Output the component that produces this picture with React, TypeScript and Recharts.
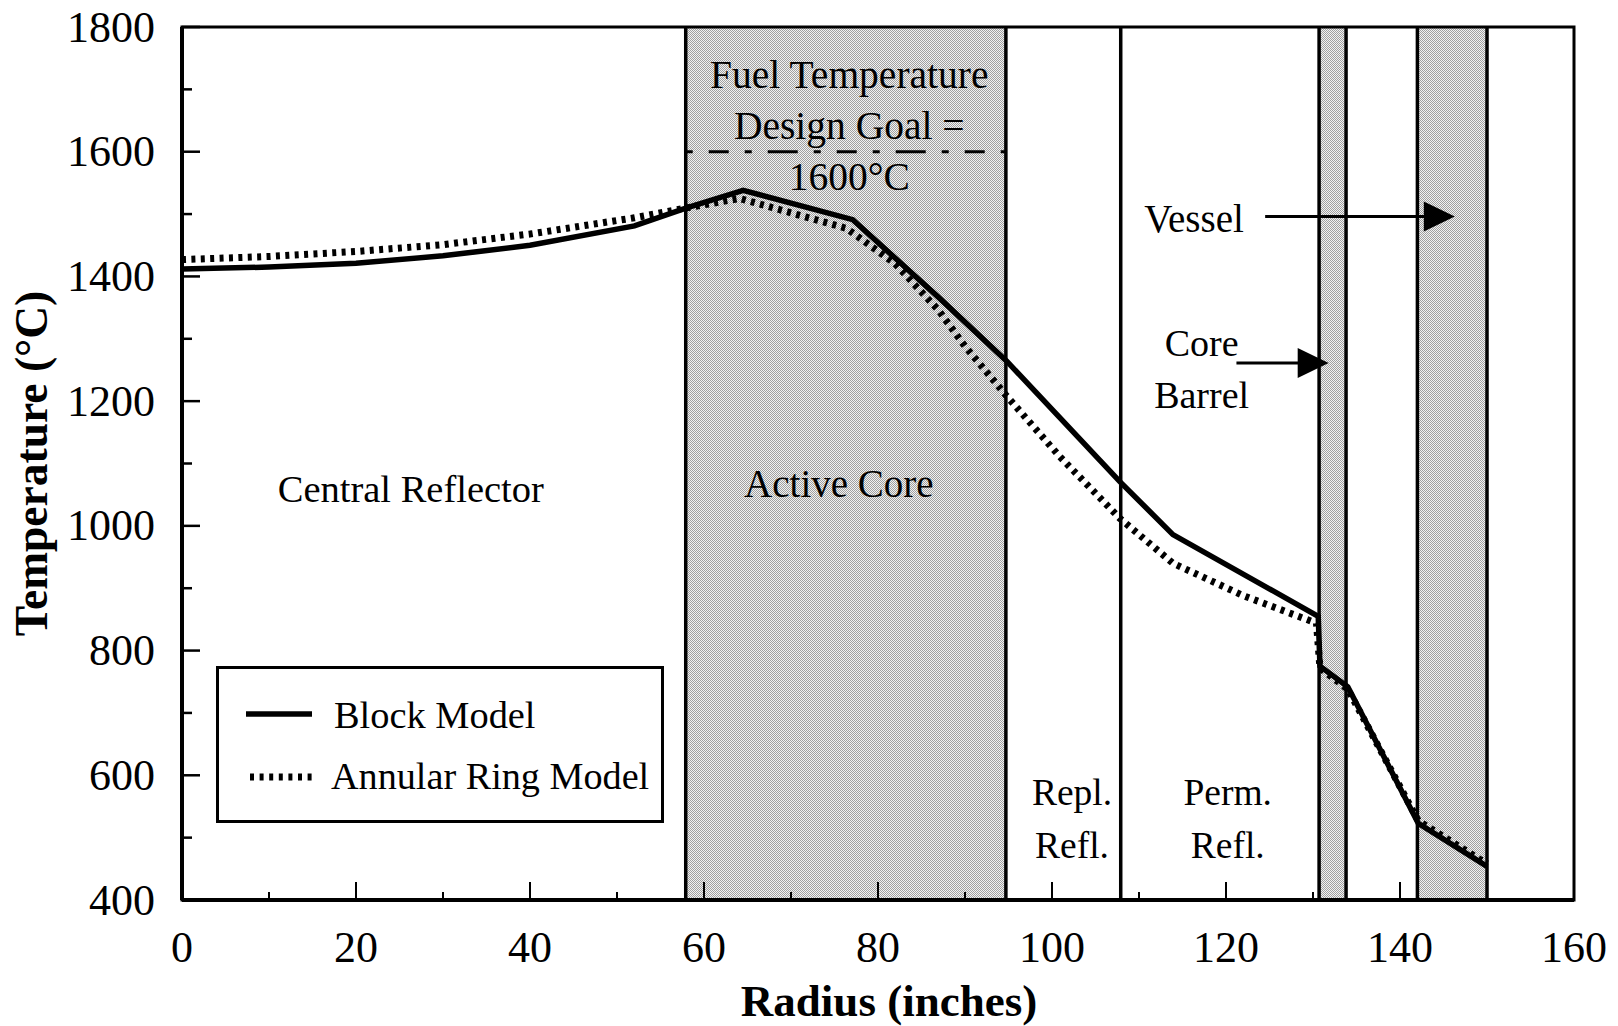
import React from 'react';
import {
  ComposedChart,
  Line,
  XAxis,
  YAxis,
  ReferenceArea,
  ReferenceLine,
  ReferenceDot,
  Legend,
} from 'recharts';

// ---------- data ----------
const blockRadius = [0, 10, 20, 30, 40, 52, 58, 64.5, 77.1, 87, 94.8, 107.8, 113.9, 130.6, 130.8, 134.0, 142.1, 150];
const blockTemp = [1412, 1415, 1421, 1433, 1450, 1481, 1510, 1538, 1491, 1366, 1264, 1071, 986, 855, 775, 742, 523, 454];

const annularRadius = [0, 10, 20, 30, 40, 52, 58, 64.1, 76.4, 82, 87, 90, 94.8, 100.9, 107.8, 113.9, 122, 130.4, 130.8, 134.0, 142.1, 150];
const annularTemp = [1427, 1432, 1440, 1451, 1468, 1494, 1510, 1525, 1477, 1420, 1345, 1288, 1208, 1111, 1012, 940, 888, 844, 772, 738, 527, 458];

const seriesNames = ['Block Model', 'Annular Ring Model'];

const xTicks = [0, 10, 20, 30, 40, 50, 60, 70, 80, 90, 100, 110, 120, 130, 140, 150, 160];
const yTicks = [400, 500, 600, 700, 800, 900, 1000, 1100, 1200, 1300, 1400, 1500, 1600, 1700, 1800];

const shadedZones = [
  [57.9, 94.7],
  [130.7, 133.8],
  [142.0, 150.0],
];
const zoneBoundaries = [57.9, 94.7, 107.9, 130.7, 133.8, 142.0, 150.0];
const designGoal = 1600;

const blockData = blockRadius.map((r, i) => ({ r, t: blockTemp[i] }));
const annularData = annularRadius.map((r, i) => ({ r, t: annularTemp[i] }));

// ---------- styling ----------
const SERIF = "'Liberation Serif', 'Times New Roman', Times, serif";

const XTick = (props: any) => {
  const { x, y, payload } = props;
  const v = payload.value;
  const major = v % 20 === 0;
  return (
    <g>
      <line x1={x} x2={x} y1={y} y2={y - (major ? 18 : 8)} stroke="#000" strokeWidth={2} />
      {major && (
        <text x={x} y={y + 47} textAnchor="middle" dominantBaseline="central" fontFamily={SERIF} fontSize={44} fill="#000">
          {v}
        </text>
      )}
    </g>
  );
};

const YTick = (props: any) => {
  const { x, y, payload } = props;
  const v = payload.value;
  const major = v % 200 === 0;
  return (
    <g>
      <line x1={x} x2={x + (major ? 18 : 10)} y1={y} y2={y} stroke="#000" strokeWidth={2.5} />
      {major && (
        <text x={x - 27} y={y} textAnchor="end" dominantBaseline="central" fontFamily={SERIF} fontSize={44} fill="#000">
          {v}
        </text>
      )}
    </g>
  );
};

const XTitle = (props: any) => {
  const vb = props.viewBox;
  return (
    <text x={vb.x + vb.width / 2 + 11} y={vb.y + 116} textAnchor="middle" fontFamily={SERIF} fontWeight="bold" fontSize={45} fill="#000">
      Radius (inches)
    </text>
  );
};

const YTitle = (props: any) => {
  const vb = props.viewBox;
  const cx = 31;
  const cy = vb.y + vb.height / 2;
  return (
    <text
      x={cx}
      y={cy}
      transform={`rotate(-90 ${cx} ${cy})`}
      textAnchor="middle"
      dominantBaseline="central"
      fontFamily={SERIF}
      fontWeight="bold"
      fontSize={45.5}
      fill="#000"
    >
      Temperature (°C)
    </text>
  );
};

const Note = (props: any) => {
  const { viewBox, lines, anchor = 'middle', size = 38, gap = 51, dy0 = 0 } = props;
  if (!viewBox) return null;
  return (
    <g>
      {lines.map((s: string, i: number) => (
        <text
          key={i}
          x={viewBox.x}
          y={viewBox.y + dy0 + i * gap}
          textAnchor={anchor}
          fontFamily={SERIF}
          fontSize={size}
          fill="#000"
        >
          {s}
        </text>
      ))}
    </g>
  );
};

const Arrow = (props: any) => {
  const { x1, y1, x2, y2 } = props;
  const head = 31;
  const half = 15;
  return (
    <g>
      <line x1={x1} y1={y1} x2={x2 - head + 2} y2={y2} stroke="#000" strokeWidth={3} />
      <polygon points={`${x2},${y2} ${x2 - head},${y2 - half} ${x2 - head},${y2 + half}`} fill="#000" />
    </g>
  );
};

const LegendBox = () => (
  <svg width={448} height={157} style={{ display: 'block', background: '#fff' }}>
    <rect x={1.5} y={1.5} width={445} height={154} fill="#fff" stroke="#000" strokeWidth={3} />
    <line x1={30} x2={96} y1={48} y2={48} stroke="#000" strokeWidth={5.5} />
    <text x={118} y={61.5} fontFamily={SERIF} fontSize={38.4} fill="#000">
      {seriesNames[0]}
    </text>
    <line x1={34} x2={96} y1={111} y2={111} stroke="#000" strokeWidth={7} strokeDasharray="4 5.6" />
    <text x={115} y={123} fontFamily={SERIF} fontSize={38.2} fill="#000">
      {seriesNames[1]}
    </text>
  </svg>
);

export default function App() {
  return (
    <div style={{ position: 'absolute', left: 0, top: 0, width: 1618, height: 1026, background: '#fff' }}>
      <ComposedChart width={1618} height={1026} margin={{ top: 27, right: 44, bottom: 0, left: 0 }}>
        <defs>
          <pattern id="stipple" width={2} height={2} patternUnits="userSpaceOnUse">
            <rect width={2} height={2} fill="#f2f2f2" />
            <rect x={0} y={0} width={1} height={1} fill="#a0a0a0" />
            <rect x={1} y={1} width={1} height={1} fill="#a0a0a0" />
          </pattern>
        </defs>
        <XAxis
          type="number"
          dataKey="r"
          domain={[0, 160]}
          ticks={xTicks}
          interval={0}
          allowDataOverflow
          height={126}
          tickSize={0}
          tickMargin={0}
          tickLine={false}
          tick={<XTick />}
          axisLine={{ stroke: '#000', strokeWidth: 4 }}
          label={<XTitle />}
        />
        <YAxis
          type="number"
          domain={[400, 1800]}
          ticks={yTicks}
          interval={0}
          allowDataOverflow
          width={182}
          tickSize={0}
          tickMargin={0}
          tickLine={false}
          tick={<YTick />}
          axisLine={{ stroke: '#000', strokeWidth: 4 }}
          label={<YTitle />}
        />
        {shadedZones.map(([a, b], i) => (
          <ReferenceArea key={`z${i}`} x1={a} x2={b} y1={400} y2={1800} fill="url(#stipple)" fillOpacity={1} stroke="none" ifOverflow="visible" />
        ))}
        <ReferenceArea x1={0} x2={160} y1={400} y2={1800} fill="none" fillOpacity={0} stroke="#000" strokeWidth={3} ifOverflow="visible" />
        {zoneBoundaries.map((b, i) => (
          <ReferenceLine key={`b${i}`} x={b} stroke="#000" strokeWidth={3.5} ifOverflow="visible" />
        ))}
        <ReferenceLine
          segment={[
            { x: shadedZones[0][0], y: designGoal },
            { x: shadedZones[0][1], y: designGoal },
          ]}
          stroke="#000"
          strokeWidth={3}
          strokeDasharray="7 16 20 16 7 16 30 16"
        />
        <ReferenceLine segment={[{ x: 124.5, y: 1496 }, { x: 146.3, y: 1496 }]} shape={(p: any) => <Arrow {...p} />} />
        <ReferenceLine segment={[{ x: 121.2, y: 1261 }, { x: 131.8, y: 1261 }]} shape={(p: any) => <Arrow {...p} />} />

        <Line
          data={annularData}
          dataKey="t"
          name={seriesNames[1]}
          type="linear"
          stroke="#000"
          strokeWidth={7}
          strokeDasharray="4 5.4"
          dot={false}
          activeDot={false}
          isAnimationActive={false}
        />
        <Line
          data={blockData}
          dataKey="t"
          name={seriesNames[0]}
          type="linear"
          stroke="#000"
          strokeWidth={5.5}
          strokeLinejoin="miter"
          dot={false}
          activeDot={false}
          isAnimationActive={false}
        />

        <ReferenceDot x={76.7} y={designGoal} r={0} fill="none" stroke="none" label={<Note lines={['Fuel Temperature', 'Design Goal =', '1600°C']} dy0={-64} gap={51} size={39.5} />} />
        <ReferenceDot x={26.3} y={1038} r={0} fill="none" stroke="none" label={<Note lines={['Central Reflector']} size={38.5} />} />
        <ReferenceDot x={75.5} y={1046} r={0} fill="none" stroke="none" label={<Note lines={['Active Core']} size={39} />} />
        <ReferenceDot x={102.3} y={553} r={0} fill="none" stroke="none" label={<Note lines={['Repl.', 'Refl.']} size={37.5} gap={53} />} />
        <ReferenceDot x={120.2} y={553} r={0} fill="none" stroke="none" label={<Note lines={['Perm.', 'Refl.']} size={37.5} gap={53} />} />
        <ReferenceDot x={110.6} y={1472} r={0} fill="none" stroke="none" label={<Note lines={['Vessel']} anchor="start" size={39} />} />
        <ReferenceDot x={117.2} y={1272} r={0} fill="none" stroke="none" label={<Note lines={['Core', 'Barrel']} size={38} gap={52} />} />

        <Legend
          layout="horizontal"
          verticalAlign="middle"
          align="center"
          wrapperStyle={{ left: 216, top: 666, width: 448, height: 157 }}
          content={<LegendBox />}
        />
      </ComposedChart>
    </div>
  );
}
